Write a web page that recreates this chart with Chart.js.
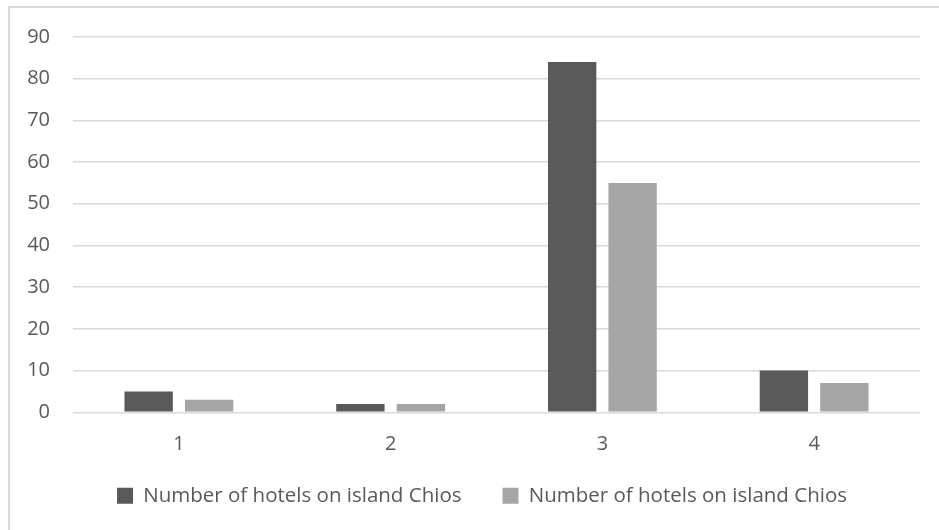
<!DOCTYPE html>
<html>
<head>
<meta charset="utf-8">
<script src="https://cdn.jsdelivr.net/npm/chart.js@4/dist/chart.umd.min.js"></script>
<style>
  html, body { margin: 0; padding: 0; background: #fff; overflow: hidden; }
  .frame {
    position: absolute; left: 8px; top: 6px;
    width: 929px; height: 522px;
    border-left: 2px solid #d9d9d9; border-top: 2px solid #d9d9d9;
  }
  .frame canvas { display: block; }
</style>
</head>
<body>
<div class="frame"><canvas id="hotelsChart" width="929" height="508"></canvas></div>
<script>
const categories = ['1', '2', '3', '4'];
const hotelsDark = [5, 2, 84, 10];
const hotelsLight = [3, 2, 55, 7];
const seriesName = 'Number of hotels on island Chios';
const yTicks = [0, 10, 20, 30, 40, 50, 60, 70, 80, 90];

// nudge the legend row a bit to the right, like the original
const legendShift = {
    id: 'legendShift',
    afterLayout(chart) {
        chart.legend.left += 17;
        chart.legend.right += 17;
    },
};

const ctx = document.getElementById('hotelsChart').getContext('2d');
new Chart(ctx, {
    type: 'bar',
    data: {
        labels: categories,
        datasets: [
            {
                label: seriesName,
                data: hotelsDark,
                backgroundColor: '#595959',
            },
            {
                label: seriesName,
                data: hotelsLight,
                backgroundColor: '#a5a5a5',
            },
        ],
    },
    options: {
        responsive: false,
        animation: false,
        categoryPercentage: 0.571,
        barPercentage: 0.8,
        layout: {
            padding: {top: 29, right: 19, left: 0, bottom: 0},
        },
        scales: {
            y: {
                min: 0,
                max: 90,
                afterBuildTicks: (scale) => {
                    scale.ticks = yTicks.map(v => ({value: v}));
                },
                afterFit: (scale) => {
                    scale.width = 63;
                    // tick padding otherwise pushes the plot top down
                    scale.paddingTop = 0;
                    scale.paddingBottom = 0;
                },
                border: {display: false},
                grid: {
                    color: '#d9d9d9',
                    lineWidth: 1.5,
                    drawTicks: false,
                },
                ticks: {
                    color: '#595959',
                    padding: 23,
                    font: {family: 'Open Sans', size: 20},
                },
            },
            x: {
                afterFit: (scale) => {
                    scale.height = 32.25;
                    // labels hang a bit below the squeezed axis box, don't clip them
                    scale._computeLabelArea = () => undefined;
                },
                border: {display: false},
                grid: {display: false, drawTicks: false},
                ticks: {
                    color: '#595959',
                    padding: 20,
                    font: {family: 'Open Sans', size: 20},
                },
            },
        },
        plugins: {
            legend: {
                position: 'bottom',
                labels: {
                    color: '#595959',
                    boxWidth: 16,
                    boxHeight: 16,
                    padding: 41,
                    font: {family: 'Open Sans', size: 20.5},
                },
            },
            tooltip: {enabled: false},
        },
    },
    plugins: [legendShift],
});
</script>
</body>
</html>
